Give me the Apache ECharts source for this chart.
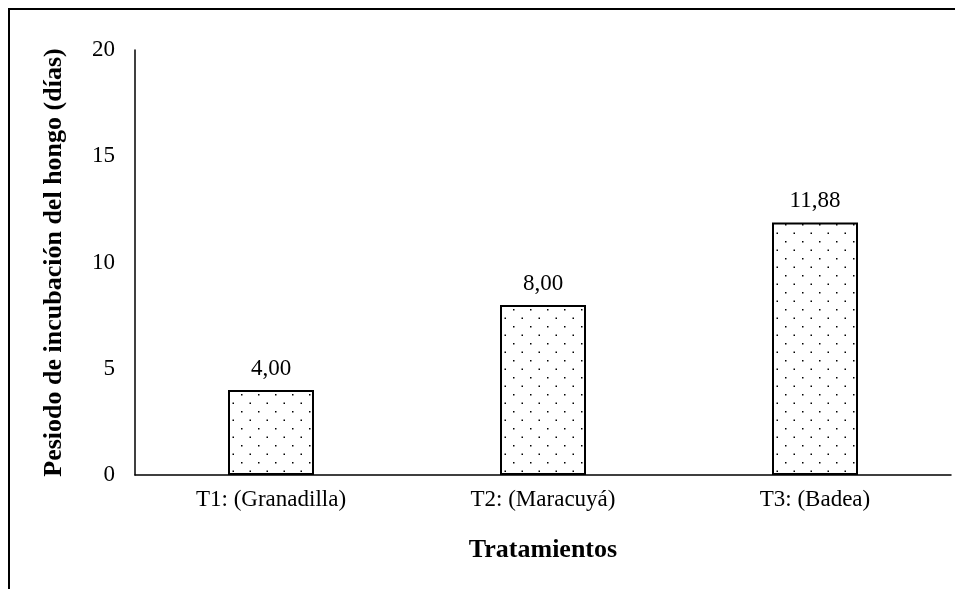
<!DOCTYPE html>
<html>
<head>
<meta charset="utf-8">
<script src="https://cdn.jsdelivr.net/npm/echarts@6/dist/echarts.min.js"></script>
<style>
  html, body { margin: 0; padding: 0; background: #fff; }
  #frame { position: absolute; left: 8px; top: 8px; width: 947px; height: 581px;
           border-top: 2px solid #000; border-left: 2px solid #000; box-sizing: border-box; }
  #chart { position: absolute; left: 0; top: 0; width: 955px; height: 589px; }
</style>
</head>
<body>
<div id="frame"></div>
<div id="chart"></div>
<script>
// Incubation period of the fungus per treatment (days)
const categories = ['T1: (Granadilla)', 'T2: (Maracuyá)', 'T3: (Badea)'];
const incubationDays = [4.00, 8.00, 11.88];
const yTicks = [0, 5, 10, 15, 20];

// Staggered dot fill for the bars
function dotPattern() {
  const c = document.createElement('canvas');
  c.width = 17; c.height = 17;
  const g = c.getContext('2d');
  g.fillStyle = '#fff';
  g.fillRect(0, 0, 17, 17);
  g.fillStyle = '#000';
  g.fillRect(3, 3, 1.5, 1.5);
  g.fillRect(11.5, 11.5, 1.5, 1.5);
  return c;
}

const chart = echarts.init(document.getElementById('chart'));
const serif = '"Liberation Serif", "Times New Roman", serif';
chart.setOption({
  animation: false,
  grid: { left: 135, right: 4, top: 50, bottom: 114, containLabel: false },
  xAxis: {
    type: 'category',
    data: categories,
    axisLine: { lineStyle: { color: '#000', width: 1.5 } },
    axisTick: { show: false },
    axisLabel: { color: '#000', fontFamily: serif, fontSize: 23, margin: 13 },
    name: 'Tratamientos',
    nameLocation: 'middle',
    nameGap: 62,
    nameTextStyle: { color: '#000', fontFamily: serif, fontSize: 26, fontWeight: 'bold' }
  },
  yAxis: {
    type: 'value',
    min: yTicks[0],
    max: yTicks[yTicks.length - 1],
    interval: 5,
    splitLine: { show: false },
    axisLine: { show: true, lineStyle: { color: '#000', width: 1.5 } },
    axisTick: { show: false },
    axisLabel: { color: '#000', fontFamily: serif, fontSize: 23, margin: 20 },
    name: 'Pesiodo de incubación del hongo (días)',
    nameLocation: 'middle',
    nameGap: 68,
    nameTextStyle: { color: '#000', fontFamily: serif, fontSize: 26, fontWeight: 'bold' }
  },
  series: [{
    type: 'bar',
    data: incubationDays,
    barWidth: 86,
    itemStyle: {
      color: { image: dotPattern(), repeat: 'repeat' },
      borderColor: '#000',
      borderWidth: 2
    },
    label: {
      show: true,
      position: 'top',
      distance: 10,
      color: '#000',
      fontFamily: serif,
      fontSize: 23,
      formatter: p => p.value.toFixed(2).replace('.', ',')
    }
  }]
});
</script>
</body>
</html>
